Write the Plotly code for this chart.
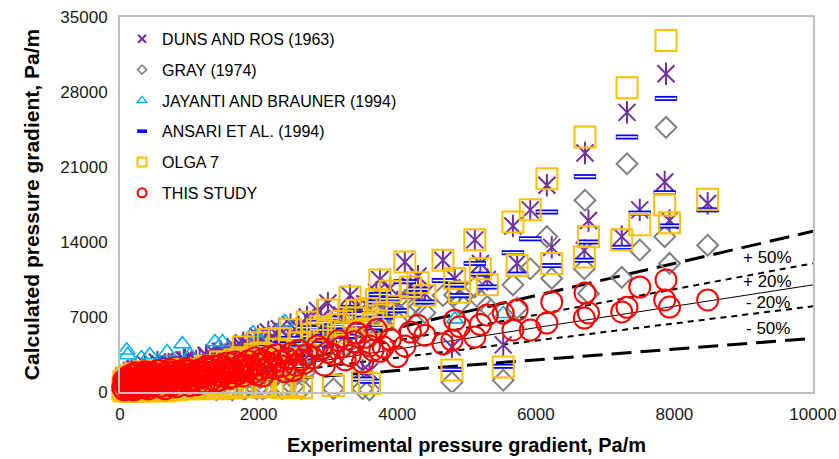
import plotly.graph_objects as go

# Experimental pressure gradient (Pa/m) and the gradients predicted by each method
exp_dp = [80, 110, 150, 190, 230, 270, 310, 350, 390, 430, 480, 530, 580, 630, 680, 740, 800, 860, 900, 960,
          1010, 1080, 1150, 1220, 1300, 1370, 1430, 1480, 1550, 1620, 1700, 1780, 1850, 1920, 1990, 2060, 2140,
          2220, 2300, 2380, 2460, 2540, 2620, 2700, 2850, 2950, 3000, 3150, 3250, 3320, 3420, 3500, 3600, 3700,
          3750, 3800, 3900, 4000, 4110, 4190, 4300, 4400, 4660, 4790, 4830, 4900, 5120, 5200, 5300, 5530, 5670,
          5730, 5920, 6160, 6230, 6700, 6710, 6760, 7240, 7316, 7500, 7860, 7879, 7930, 8480,
          60, 100, 130, 170, 200, 250, 290, 330, 370, 410, 450, 500, 550, 600, 650, 700, 760, 820, 880, 940,
          990, 1050, 1110, 1180, 1250, 1330, 1400, 1460, 1520, 1590, 1660, 1730, 1810, 1880, 1950, 2020, 2100,
          2180, 2260, 2340, 2420, 2500, 2580, 2660, 2780, 2900, 3080, 3200, 3380, 3550, 3650,
          70, 95, 120, 140, 160, 180, 210, 240, 280, 320, 360, 400, 440, 490, 540, 590, 640, 690, 750, 810,
          870, 920, 980, 1040, 1100, 1160, 1240, 1310, 1390, 1450, 1510, 1570, 1640, 1710, 1760, 1830, 1900,
          1970, 2040, 2120,
          40, 55, 85, 105, 125, 145, 165, 185, 205, 225, 260, 300, 340, 380, 420, 460, 510, 560, 620, 670,
          720, 780, 850, 930, 1000, 1090, 1190, 1280, 1420, 1560]

this_study = [600, 1000, 300, 800, 1300, 500, 1100, 400, 900, 1500, 700, 1200, 500, 1700, 1000, 600, 1400, 1900,
              900, 1500, 600, 1200, 2100, 900, 1700, 2400, 1100, 1900, 2700, 1400, 2300, 1500, 2900, 1800, 2600,
              1500, 3300, 2200, 2900, 1900, 3600, 2500, 3000, 3500, 4300, 2500, 3700, 4800, 3000, 3400, 5500, 2800,
              4300, 5800, 3800, 4200, 4900, 3300, 4300, 5600, 6200, 5300, 4500, 4850, 6700, 6100, 5130, 6300, 7190,
              7370, 5790, 7650, 5790, 6440, 8400, 6900, 9240, 7370, 7470, 7900, 9800, 8590, 10450, 7930, 8590,
              200, 400, 800, 1200, 200, 900, 1500, 700, 1300, 300, 1000, 1600, 800, 1300, 300, 1900, 1100, 500,
              1600, 2200, 1000, 1700, 700, 1500, 2400, 1200, 2000, 1500, 2300, 1800, 2800, 2000, 2500, 2200, 3200,
              2100, 2800, 2600, 3500, 2400, 3100, 2000, 3900, 2700, 3200, 4000, 3500, 4200, 4700, 5100, 3900,
              900, 500, 1300, 700, 1000, 400, 1600, 1100, 700, 1400, 1900, 1100, 600, 1300, 2000, 900, 1400, 1100,
              1800, 800, 1300, 2000, 1600, 900, 1900, 1300, 2200, 1700, 1000, 2500, 1800, 1300, 2100, 1700, 2600,
              2000, 2400, 1600, 3000, 2300,
              400, 1100, 800, 1400, 500, 1000, 1600, 600, 1200, 1800, 400, 1300, 1700, 600, 1100, 1800, 1400, 2000,
              1100, 1500, 2100, 1300, 1700, 1200, 2000, 1500, 1800, 2100, 1600, 2100]

duns_ros = [900, 1400, 700, 1200, 1800, 900, 1600, 800, 1500, 2100, 1200, 1800, 1000, 2400, 1600, 1200, 2100,
            2800, 1500, 2300, 1100, 1900, 3100, 1600, 2700, 3600, 1900, 3000, 4000, 2400, 3600, 4600, 4400, 3000,
            5200, 2500, 5600, 3500, 5900, 2900, 6300, 4200, 5000, 7000, 7600, 5200, 8300, 6800, 6000, 9000, 8000,
            2000, 1900, 9300, 10500, 7800, 9700, 8400, 12130, 9900, 10800, 9200, 12300, 4200, 10600, 9500, 14200,
            12000, 10500, 4400, 15500, 12000, 17000, 19300, 13500, 13200, 22300, 16000, 14500, 26100, 17000,
            19600, 29700, 16000, 17600,
            500, 700, 1100, 1500, 600, 1300, 1900, 1100, 1700, 800, 1500, 2200, 1300, 1900, 900, 2600, 1700, 1100,
            2400, 3000, 1700, 2600, 1400, 2400, 3400, 2000, 3100, 2500, 3500, 2900, 4200, 3300, 3900, 3600, 4800,
            3500, 4500, 4300, 5400, 4000, 5200, 3600, 6000, 4600, 6300, 6900, 5600, 7200, 7000, 8200, 6600,
            1300, 800, 1700, 1100, 1400, 700, 2100, 1600, 1100, 1900, 2600, 1600, 1000, 1900, 2800, 1400, 2000,
            1700, 2600, 1300, 2000, 3000, 2400, 1500, 2900, 2100, 3400, 2700, 1700, 3800, 2900, 2200, 3400, 2800,
            4300, 3300, 4000, 2700, 4900, 3900,
            800, 1500, 1200, 1800, 900, 1400, 2000, 1000, 1600, 2200, 800, 1700, 2100, 1000, 1500, 2200, 1800, 2400,
            1500, 1900, 2500, 1700, 2100, 1600, 2400, 1900, 2200, 2500, 2000, 2500]

gray_1974 = [400, 600, 200, 500, 800, 300, 700, 200, 600, 1000, 400, 800, 300, 1200, 600, 400, 900, 1300, 600,
             1000, 400, 800, 1400, 600, 1100, 1600, 700, 1200, 1800, 200, 1500, 300, 1900, 1200, 1700, 300, 2200,
             1400, 1900, 400, 2400, 1600, 300, 4500, 5200, 3800, 5500, 4800, 4300, 6500, 6000, 300, 200, 7200,
             7800, 6200, 7600, 6600, 8500, 7900, 8200, 7400, 9000, 900, 9050, 8300, 9800, 8600, 8000, 1100, 10000,
             7840, 11500, 14500, 10600, 11500, 17900, 9200, 10700, 21300, 13250, 14500, 24700, 12000, 13700,
             100, 300, 500, 700, 100, 600, 900, 400, 800, 200, 600, 1000, 500, 800, 200, 1200, 700, 300, 1000, 1400,
             600, 1100, 400, 900, 1500, 700, 1300, 900, 1500, 1100, 1800, 1300, 300, 1500, 2100, 1300, 400, 1700,
             2300, 300, 2000, 500, 2600, 1800, 3500, 4200, 300, 4900, 5000, 6100, 5200,
             500, 300, 800, 400, 600, 200, 1000, 700, 400, 800, 1200, 700, 300, 800, 1300, 500, 900, 700, 1200,
             400, 800, 1300, 1000, 500, 1200, 800, 1400, 1100, 200, 1600, 1100, 300, 1300, 1000, 1700, 1300, 1500,
             300, 1900, 1400,
             200, 900, 600, 1200, 300, 800, 1400, 400, 1000, 1600, 200, 1100, 1500, 400, 900, 1600, 1200, 1800,
             900, 1300, 1900, 1100, 1500, 1000, 1800, 1300, 1600, 1900, 1400, 1900]

jayanti_brauner = [1300, 3450, 900, 1500, 2000, 1100, 3170, 900, 1600, 3450, 1300, 1900, 1000, 2200, 3730, 1200,
                   2000, 2400, 4480, 2000, 3450, 1900, 2700, 1500, 2500, 4670, 1800, 4670, 3000, 2000, 3000, 2300,
                   3500, 5500, 5040, 2300, 3900, 3000, 4200, 6530, 4300, 3300, 4400, 5200,
                   None, None, None, None, None, None, None, None, None, None,
                   None, None, None, None, None, None, None, None, None, None,
                   6800, None, None, None, None, 7300,
                   None, None, None, None, None, None, None, None, None, None,
                   None, None, None, None, None,
                   600, 800, 1200, 1700, 500, 1300, 1900, 1100, 1700, 700, 1400, 2000, 1200, 1700, 700, 2300, 1500,
                   900, 2000, 2600, 1400, 2100, 1100, 1900, 2800, 1600, 2400, 1900, 2700, 2200, 3200, 2400, 2900,
                   2600, 3600, 2500, 3200, 3000, 3900, 2800, 3500, 2400, 4300, 3100,
                   None, None, None, None, None, None, None,
                   1200, 3900, 1600, 1000, 1300, 700, 1900, 1400, 1000, 1700, 2200, 1400, 900, 1600, 2300, 1200,
                   1700, 1400, 2100, 1100, 1600, 2300, 1900, 1200, 2200, 1600, 2500, 2000, 1300, 2800, 2100, 1600,
                   2400, 2000, 2900, 2300, 2700, 1900, 3300, 2600,
                   None, None, None, None, None, None, None, None, None, None,
                   None, None, None, None, None, None, None, None, None, None,
                   None, None, None, None, None, None, None, None, None, None]

ansari_1994 = [800, 1200, 500, 1000, 1500, 700, 1300, 600, 1100, 1700, 900, 1400, 700, 1900, 1200, 800, 1600,
               2100, 1100, 1700, 800, 1400, 2300, 1100, 1900, 2700, 1300, 2200, 3000, 1600, 2600, 3800, 3300, 2100,
               4000, 1800, 4200, 2600, 4500, 2200, 5000, 3200, 3700, 6000, 6500, 4500, 6900, 6100, 5200, 7900, 7300,
               1200, 1000, 8400, 9100, 7000, 8700, 7600, 10300, 8900, 9600, 8400, 10400, 2100, 10000, 9000, 12000,
               11000, 9800, 2400, 13000, 11000, 14300, 16800, 11800, 12300, 20100, 14000, 13500, 23800, 16700,
               18600, 27400, 15500, 17000,
               400, 600, 900, 1300, 400, 1100, 1600, 900, 1500, 500, 1200, 1800, 1000, 1500, 600, 2100, 1300, 800,
               1800, 2400, 1200, 1900, 900, 1700, 2600, 1400, 2300, 1700, 2600, 2000, 3100, 2300, 2900, 2500, 3600,
               2400, 3200, 3000, 4000, 2800, 3600, 2400, 4500, 3200, 5200, 5800, 4000, 6300, 6200, 7200, 6000,
               1100, 700, 1500, 900, 1200, 600, 1800, 1300, 900, 1600, 2200, 1300, 800, 1500, 2300, 1100, 1600, 1300,
               2100, 1000, 1500, 2300, 1900, 1100, 2200, 1600, 2600, 2000, 1200, 2900, 2100, 1600, 2500, 2000, 3100,
               2400, 2900, 1900, 3600, 2700,
               600, 1300, 1000, 1600, 700, 1200, 1800, 800, 1400, 2000, 600, 1500, 1900, 800, 1300, 2000, 1600, 2200,
               1300, 1700, 2300, 1500, 1900, 1400, 2200, 1700, 2000, 2300, 1800, 2300]

olga_7 = [200, 700, 100, 500, 1100, 200, 900, 100, 600, 1300, 300, 1000, 200, 1600, 800, 300, 1200, 1800, 700,
          1400, 300, 1000, 2000, 500, 1600, 2400, 700, 1900, 2800, 400, 2300, 4200, 3100, 1700, 4600, 500, 4900,
          2300, 5000, 500, 5800, 3000, 400, 6530, 5800, 4800, 7650, 6300, 5500, 8870, 7600, 900, 800, 8600, 10450,
          7200, 9400, 8000, 12130, 9800, 10200, 9000, 12300, 2050, 10600, 9300, 14200, 11500, 10000, 2330, 15870,
          11800, 17000, 19900, 12000, 12600, 23800, 14500, 14200, 28400, 15600, 17450, 32800, 15800, 18000,
          100, 300, 400, 800, 100, 600, 1200, 300, 1000, 100, 700, 1400, 400, 1100, 100, 1800, 900, 200, 1500,
          2100, 800, 1600, 300, 1300, 2300, 400, 2000, 1400, 2400, 600, 3000, 2100, 500, 2300, 3500, 2200, 600,
          2800, 4000, 400, 3500, 600, 4600, 3100, 5400, 6100, 600, 6600, 6900, 7800, 6400,
          800, 300, 1200, 500, 900, 200, 1500, 1000, 400, 1300, 1900, 900, 300, 1100, 2000, 500, 1200, 800, 1800,
          300, 1100, 2100, 1500, 400, 2000, 1100, 2400, 1700, 300, 2800, 1900, 400, 2300, 1600, 3200, 2100, 2800,
          500, 3600, 2500,
          300, 1000, 700, 1300, 400, 900, 1500, 500, 1100, 1700, 300, 1200, 1600, 500, 1000, 1700, 1300, 1900,
          1000, 1400, 2000, 1200, 1600, 1100, 1900, 1400, 1700, 2000, 1500, 2000]

series_names = ["DUNS AND ROS (1963)", "GRAY (1974)", "JAYANTI AND BRAUNER (1994)",
                "ANSARI ET AL. (1994)", "OLGA 7", "THIS STUDY"]

# Error bands drawn around the perfect-agreement line
bands = [0.5, 0.2]
x_ticks = [0, 2000, 4000, 6000, 8000, 10000]
y_ticks = [0, 7000, 14000, 21000, 28000, 35000]

PURPLE, GREY, CYAN, BLUE, ORANGE, RED = "#7030A0", "#808080", "#00B0F0", "#0000FF", "#FFC000", "#FF0000"
FONT = "Liberation Sans, Arial, sans-serif"

fig = go.Figure()

# Reference lines (under the markers): y = x and the +/- bands
x_line = [0, 10000]
fig.add_trace(go.Scatter(x=x_line, y=x_line, mode="lines", showlegend=False, hoverinfo="skip",
                         line=dict(color="black", width=1)))
for b in bands:
    style = dict(color="black", width=3, dash="20px,9px") if b == 0.5 else \
        dict(color="black", width=2, dash="6px,5px")
    for sgn in (1, -1):
        fig.add_trace(go.Scatter(x=x_line, y=[v * (1 + sgn * b) for v in x_line], mode="lines",
                                 showlegend=False, hoverinfo="skip", line=style))


def pts(yvals, symbol, size, color, width):
    return go.Scatter(
        x=exp_dp, y=yvals, mode="markers", showlegend=False, cliponaxis=False, hoverinfo="x+y",
        marker=dict(symbol=symbol, size=size, color=color, line=dict(color=color, width=width)),
    )


# Duns & Ros: six-armed star (cross + vertical stroke)
fig.add_trace(pts(duns_ros, "x-thin-open", 17, PURPLE, 2))
fig.add_trace(pts(duns_ros, "line-ns-open", 16, PURPLE, 2))
# Gray
fig.add_trace(pts(gray_1974, "diamond-open", 16, GREY, 2))
# Jayanti & Brauner
fig.add_trace(pts(jayanti_brauner, "triangle-up-open", 15, CYAN, 1.6))
# Ansari et al.: hollow horizontal bar
fig.add_trace(pts(ansari_1994, "line-ew-open", 16, BLUE, 5))
fig.add_trace(pts(ansari_1994, "line-ew-open", 15, "#FFFFFF", 1.5))
# OLGA 7
fig.add_trace(pts(olga_7, "square-open", 21, ORANGE, 2))
# This study
fig.add_trace(pts(this_study, "circle-open", 21, RED, 2))

# Legend entries (small markers)
legend_marks = [("x-thin-open", 8, PURPLE, 2.2), ("diamond-open", 7, GREY, 1.6),
                ("triangle-up-open", 8, CYAN, 1.4), ("line-ew-open", 7, BLUE, 3.5),
                ("square-open", 9, ORANGE, 2), ("circle-open", 9, RED, 2)]
for i, (name, (sym, sz, col, lw)) in enumerate(zip(series_names, legend_marks)):
    fig.add_trace(go.Scatter(x=[None], y=[None], mode="markers", name=name, legendgroup=f"g{i}",
                             marker=dict(symbol=sym, size=sz, color=col, line=dict(color=col, width=lw))))

# Band labels near the right edge
label_x = 9350
label_y = {"+ 50%": 12600, "+ 20%": 10360, "- 20%": 8310, "- 50%": 5970}
for txt, yv in label_y.items():
    fig.add_annotation(x=label_x, y=yv, text=txt, showarrow=False,
                       font=dict(family=FONT, size=17, color="black"))

axis_common = dict(showgrid=False, zeroline=False, showline=True, linecolor="#BFBFBF", linewidth=2,
                   mirror=True, ticks="", automargin=False,
                   tickfont=dict(family=FONT, size=17, color="#1a1a1a"))
fig.update_xaxes(range=[0, 10000], tickvals=x_ticks, ticktext=[str(v) for v in x_ticks],
                 title=dict(text="<b>Experimental pressure gradient, Pa/m</b>",
                            font=dict(family=FONT, size=20, color="black")),
                 ticklabelstandoff=6, **axis_common)
fig.update_yaxes(range=[0, 35000], tickvals=y_ticks, ticktext=[str(v) for v in y_ticks],
                 title=dict(text="<b>Calculated pressure gradient, Pa/m</b>",
                            font=dict(family=FONT, size=21, color="black")),
                 ticklabelstandoff=7, **axis_common)

fig.update_layout(
    width=839, height=459, margin=dict(l=120, r=26, t=17, b=67, autoexpand=False),
    paper_bgcolor="white", plot_bgcolor="white",
    font=dict(family=FONT, color="black"),
    legend=dict(x=0.003, y=0.987, xanchor="left", yanchor="top", bgcolor="rgba(0,0,0,0)",
                font=dict(family=FONT, size=16, color="black"), tracegroupgap=7),
)

fig.write_html("out.html")
